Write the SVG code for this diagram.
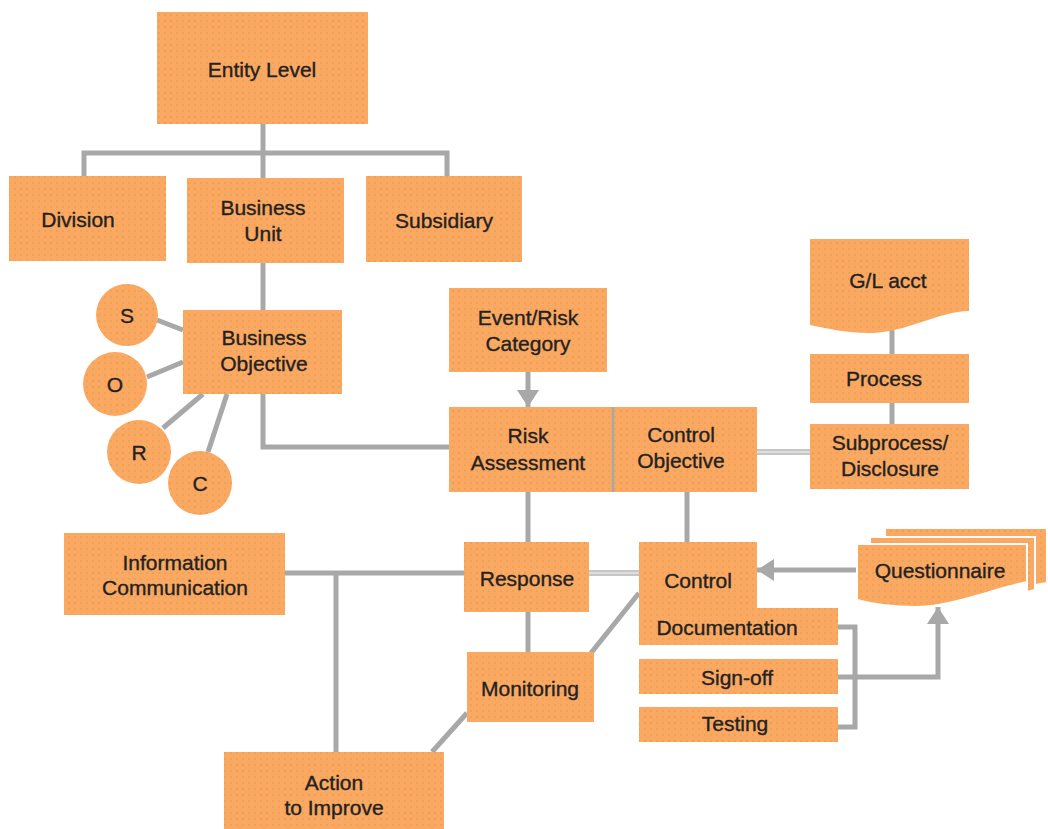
<svg xmlns="http://www.w3.org/2000/svg" width="1048" height="829" viewBox="0 0 1048 829">
<defs>
<pattern id="dots" width="6" height="6" patternUnits="userSpaceOnUse">
<rect width="6" height="6" fill="#FBA862"/>
<circle cx="3" cy="3" r="0.8" fill="#D6A242"/>
</pattern>
<marker id="arr" markerUnits="userSpaceOnUse" markerWidth="18" markerHeight="22" refX="17" refY="11" orient="auto">
<path d="M0,0 L17,11 L0,22 Z" fill="#A8A8A8"/>
</marker>
<style>
.box{fill:url(#dots);}
.t{font-family:"Liberation Sans",Arial,sans-serif;font-size:21px;fill:#222;stroke:#222;stroke-width:0.35;text-anchor:middle;dominant-baseline:central;}
.c{fill:none;stroke:#A8A8A8;stroke-width:5;}
.lt{fill:none;stroke:#C6C6C6;stroke-width:6;}
.lti{fill:none;stroke:#E4E4E4;stroke-width:1.5;}
.div{stroke:#A8A8A8;stroke-width:2.5;}
</style>
</defs>
<rect width="1048" height="829" fill="#FFFFFF"/>

<g id="connectors">
<path class="c" d="M263,124 V153"/>
<path class="c" d="M84,176 V153 H447 V176"/>
<path class="c" d="M263,153 V178"/>
<path class="c" d="M263,263 V310"/>
<path class="c" d="M157,320 L183,330"/>
<path class="c" d="M147,377 L183,362"/>
<path class="c" d="M163,428 L203,394"/>
<path class="c" d="M208,452 L227,394"/>
<path class="c" d="M263,394 V447 H449"/>
<path class="c" d="M528,372 V407" marker-end="url(#arr)"/>
<path class="lt" d="M757,452 H810"/>
<path class="lti" d="M757,452 H810"/>
<path class="c" d="M892,330 V354"/>
<path class="c" d="M892,403 V424"/>
<path class="c" d="M528,492 V542"/>
<path class="c" d="M687,492 V542"/>
<path class="c" d="M285,573 H464"/>
<path class="c" d="M336,573 V752"/>
<path class="lt" d="M589,573 H639"/>
<path class="lti" d="M589,573 H639"/>
<path class="c" d="M528,612 V652"/>
<path class="c" d="M639,593 L591,653"/>
<path class="c" d="M467,713 L432,752"/>
<path class="c" d="M857,570 H757" marker-end="url(#arr)"/>
<path class="c" d="M838,627 H855 V727 H838"/>
<path class="c" d="M838,677 H938 V607" marker-end="url(#arr)"/>
</g>

<g id="entity-level"><rect class="box" x="157" y="12" width="211" height="112"/><text class="t" x="262" y="69">Entity Level</text></g>
<g id="division"><rect class="box" x="9" y="176" width="157" height="85"/><text class="t" x="78" y="219">Division</text></g>
<g id="business-unit"><rect class="box" x="187" y="178" width="157" height="85"/><text class="t" x="263" y="207">Business</text><text class="t" x="263" y="233">Unit</text></g>
<g id="subsidiary"><rect class="box" x="366" y="176" width="156" height="86"/><text class="t" x="444" y="220">Subsidiary</text></g>
<g id="business-objective"><rect class="box" x="183" y="310" width="159" height="84"/><text class="t" x="264" y="337">Business</text><text class="t" x="264" y="363">Objective</text></g>
<g id="circle-s"><circle class="box" cx="127" cy="315" r="31"/><text class="t" x="127" y="315">S</text></g>
<g id="circle-o"><circle class="box" cx="115" cy="384" r="32"/><text class="t" x="115" y="384">O</text></g>
<g id="circle-r"><circle class="box" cx="139" cy="452" r="32"/><text class="t" x="139" y="452">R</text></g>
<g id="circle-c"><circle class="box" cx="200" cy="483" r="32"/><text class="t" x="200" y="483">C</text></g>
<g id="event-risk-category"><rect class="box" x="449" y="288" width="158" height="84"/><text class="t" x="528" y="317">Event/Risk</text><text class="t" x="528" y="343">Category</text></g>
<g id="risk-assessment"><rect class="box" x="449" y="407" width="164" height="85"/><text class="t" x="528" y="435">Risk</text><text class="t" x="528" y="462">Assessment</text></g>
<g id="control-objective"><rect class="box" x="613" y="407" width="144" height="85"/><line class="div" x1="613" y1="407" x2="613" y2="492"/><text class="t" x="681" y="434">Control</text><text class="t" x="681" y="460">Objective</text></g>
<g id="gl-acct"><path class="box" d="M810,239 H969 V311 C940,311 905,333 870,333 C845,333 825,328 810,325 Z"/><text class="t" x="888" y="280">G/L acct</text></g>
<g id="process"><rect class="box" x="810" y="354" width="159" height="49"/><text class="t" x="884" y="378">Process</text></g>
<g id="subprocess-disclosure"><rect class="box" x="810" y="424" width="159" height="65"/><text class="t" x="890" y="442">Subprocess/</text><text class="t" x="890" y="468">Disclosure</text></g>
<g id="information-communication"><rect class="box" x="64" y="533" width="221" height="82"/><text class="t" x="175" y="562">Information</text><text class="t" x="175" y="587">Communication</text></g>
<g id="response"><rect class="box" x="464" y="542" width="125" height="70"/><text class="t" x="527" y="578">Response</text></g>
<g id="control"><rect class="box" x="639" y="542" width="118" height="68"/><text class="t" x="698" y="580">Control</text></g>
<g id="documentation"><rect class="box" x="639" y="608" width="199" height="37"/><text class="t" x="727" y="627">Documentation</text></g>
<g id="sign-off"><rect class="box" x="639" y="659" width="199" height="35"/><text class="t" x="737" y="677">Sign-off</text></g>
<g id="testing"><rect class="box" x="639" y="707" width="199" height="35"/><text class="t" x="735" y="723">Testing</text></g>
<g id="questionnaire">
<path class="box" d="M885,528 H1047 V583 L1030,586 V540 H885 Z" stroke="#FFFFFF" stroke-width="2"/>
<path class="box" d="M870,537 H1035 V590 L1027,592 V546 H870 Z" stroke="#FFFFFF" stroke-width="2"/>
<path class="box" d="M857,544 H1027 V582 C990,590 950,607 915,607 C885,607 868,603 857,600 Z" stroke="#FFFFFF" stroke-width="2"/>
<text class="t" x="940" y="570">Questionnaire</text>
</g>
<g id="monitoring"><rect class="box" x="467" y="652" width="127" height="70"/><text class="t" x="530" y="688">Monitoring</text></g>
<g id="action-to-improve"><rect class="box" x="224" y="752" width="220" height="77"/><text class="t" x="334" y="782">Action</text><text class="t" x="334" y="807">to Improve</text></g>
</svg>
